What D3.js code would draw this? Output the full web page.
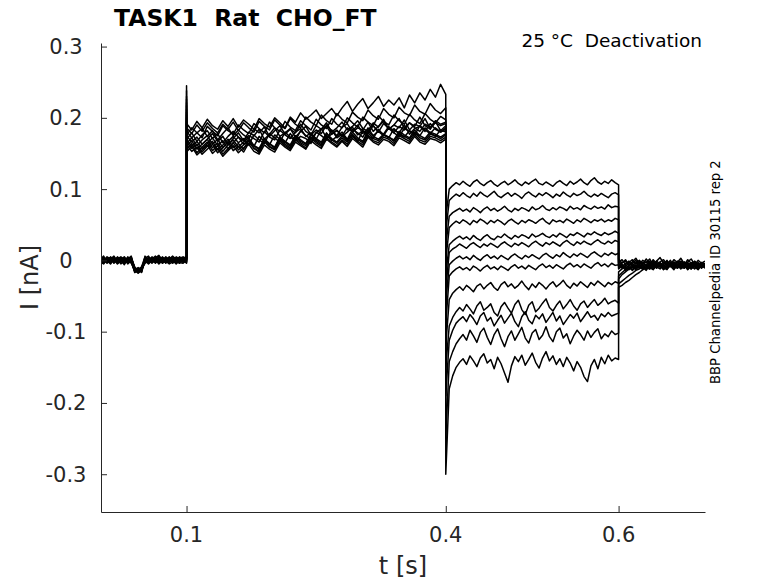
<!DOCTYPE html>
<html>
<head>
<meta charset="utf-8">
<script src="https://cdn.jsdelivr.net/npm/d3@7"></script>
<style>
  html, body { margin: 0; padding: 0; background: #fff; }
  svg { display: block; font-family: "DejaVu Sans", sans-serif; }
  text { white-space: pre; }
</style>
</head>
<body>
<svg id="chart" width="778" height="583"></svg>
<script>
// current in pA, one row per sweep (13 sweeps)
const holdA = [
  [3,-2,4,1,-3,5,0,-4,2,6,-12,-16,-9,5,1,-2,4,7,-1,3,0,-3,5,2,-1,4],
  [-1,4,0,-5,2,-2,3,1,-4,0,-14,-11,-15,2,-3,5,0,-2,3,-4,2,6,-1,1,4,-2],
  [5,1,-3,2,6,-1,4,-2,0,3,-9,-17,-12,3,6,-1,2,-3,4,1,5,-2,3,-3,2,6],
  [-4,0,2,-2,1,-5,-1,3,-3,-2,-15,-13,-10,-1,2,-4,1,-5,0,-2,-3,1,-4,0,-2,1],
  [1,6,-1,3,-3,2,5,-1,4,1,-10,-14,-16,4,0,3,-2,6,1,4,-1,3,0,5,1,3],
  [-2,-5,1,-1,3,-3,0,-6,1,-3,-16,-12,-11,-2,-4,0,-3,2,-4,-1,-5,-2,1,-3,-4,0],
  [4,2,-2,5,0,3,-3,2,-1,5,-13,-18,-14,1,4,2,6,0,3,-2,4,1,-1,3,5,2],
  [0,-3,3,-4,4,0,2,-3,5,-1,-11,-15,-13,6,-2,1,-4,3,-1,5,0,-4,2,-2,3,-3],
  [-3,1,-4,0,-1,4,-2,1,-2,2,-17,-14,-9,0,3,-3,2,-1,-3,1,3,-1,-3,4,-1,2],
  [2,-1,5,2,-4,1,3,0,3,-4,-12,-16,-15,3,-1,4,-1,5,2,-3,1,5,3,-1,0,-4],
  [-5,3,-1,-3,2,-2,1,4,-5,0,-14,-10,-13,-3,1,-2,3,-4,0,2,-2,0,-5,1,-3,1],
  [1,-4,2,4,-2,3,-5,-1,2,4,-10,-13,-17,2,-5,0,4,1,-2,-1,4,-3,2,3,4,-1],
  [-2,2,-2,-1,5,-4,2,5,-1,-2,-15,-17,-12,-4,2,3,-2,-3,5,0,-1,2,-2,-4,1,3]
];

const capOn = [245, 238, 230, 226, 221, 217, 212, 208, 204, 200, 197, 195, 192];

const stepB = [
  [192,183,195,186,198,189,184,196,188,199, 187,197,191,184,199,192,187,200,193,186, 201,194,207,198,204,211,199,206,213,203, 214,223,209,219,227,213,221,230,216,225, 218,228,214,232,221,235,225,240,229,247,233],
  [186,178,190,181,193,185,179,191,184,194, 182,193,186,180,195,188,183,197,190,185, 199,191,186,201,194,189,204,196,191,206, 198,193,208,201,196,211,203,198,213,205, 200,215,207,203,218,209,205,220,211,206,214],
  [176,186,179,172,188,181,175,189,182,177, 190,183,178,192,185,179,194,186,181,195, 187,182,196,189,183,198,190,185,199,191, 186,200,193,187,201,194,189,203,195,190, 204,196,191,205,197,192,206,198,193,202,197],
  [181,172,179,185,174,182,169,178,186,175, 183,176,171,185,179,187,174,182,189,177, 184,179,191,181,176,189,184,193,180,186, 194,183,188,196,185,181,193,187,198,184, 190,199,186,193,188,201,189,184,196,191,194],
  [170,179,167,176,182,171,178,165,174,181, 173,168,180,175,184,170,177,186,174,179, 185,173,181,188,176,183,178,190,182,175, 187,192,180,186,183,194,181,188,195,184, 190,186,197,183,191,188,199,185,193,189,192],
  [175,166,173,163,170,178,167,174,162,171, 179,168,175,171,166,181,173,169,183,176, 171,180,185,174,179,170,184,188,177,182, 175,186,181,190,178,184,189,180,192,185, 179,188,183,193,186,181,191,187,195,182,189],
  [164,172,161,169,175,163,170,158,167,174, 165,171,162,176,169,164,178,172,166,180, 173,168,182,175,170,179,185,172,177,183, 174,180,187,176,182,178,189,181,175,186, 183,179,190,177,185,188,181,192,184,180,186],
  [170,160,167,157,164,172,161,168,156,165, 173,163,169,160,174,167,162,176,170,165, 178,168,174,171,164,180,175,169,183,172, 177,170,184,179,173,186,175,181,177,188, 179,174,185,181,176,189,183,178,186,180,184],
  [160,168,156,163,170,158,165,153,162,169, 159,166,172,161,157,170,164,159,173,167, 162,175,169,164,177,171,166,179,168,174, 180,170,176,167,182,174,171,184,176,172, 185,177,173,182,178,175,186,179,174,183,180],
  [166,157,163,152,160,167,155,162,170,158, 164,156,169,161,155,171,163,158,172,166, 160,174,167,163,176,169,164,178,171,166, 175,168,180,172,167,182,174,170,177,173, 169,181,176,172,183,175,171,180,177,173,178],
  [156,164,151,159,166,154,161,149,157,165, 155,162,168,157,153,167,160,156,170,163, 158,171,165,161,173,167,162,175,169,164, 172,166,177,170,165,179,171,168,176,173, 167,178,174,170,180,172,169,177,175,171,176],
  [162,153,159,149,156,163,151,158,166,154, 160,152,165,158,151,167,159,155,168,161, 156,169,163,158,171,165,160,172,166,161, 169,163,174,167,162,176,168,165,173,170, 164,175,171,167,177,169,166,174,172,168,173],
  [152,160,148,155,162,150,157,146,154,161, 151,158,163,153,149,162,156,152,165,159, 154,166,161,156,168,162,157,170,164,159, 167,160,171,165,159,173,166,162,170,167, 161,172,168,164,174,166,163,171,169,165,170]
];

const capOff = [60, 40, 20, 0, -20, -40, -60, -90, -120, -150, -190, -250, -300];

const tailC = [
  [100,105,109,106,111,107,104,110,113,108,105,109,112,107,104,108,111,106,109,113,108,105,110,107,111,114,108,106,110,107,104,109,112,108,105,111,107,110,114,109,106,112,116,110,107,111,108,113,109,106],
  [84,89,93,90,95,91,88,94,90,96,92,89,93,97,91,88,92,95,90,94,91,87,93,96,92,89,94,91,95,92,88,93,90,96,92,89,94,91,93,97,92,89,93,90,94,91,88,93,95,92],
  [62,67,70,73,69,72,68,74,71,67,72,75,70,73,69,72,76,71,68,73,70,74,72,69,75,71,73,77,72,70,74,71,75,73,70,76,72,74,71,77,74,72,76,73,75,72,78,74,76,75],
  [46,51,55,52,57,54,50,56,53,58,55,51,56,53,57,54,50,55,58,54,51,56,53,57,55,52,56,59,54,51,57,54,56,53,58,55,52,57,54,59,56,53,57,55,58,54,57,55,59,57],
  [22,27,31,34,30,33,29,35,31,28,33,36,31,29,34,32,37,33,30,35,32,36,34,31,37,33,35,38,34,32,36,33,38,35,32,37,35,39,36,33,38,36,40,37,35,39,36,38,41,38],
  [11,16,19,23,20,17,22,25,21,18,23,20,24,21,18,23,26,22,19,24,21,25,22,19,24,27,23,20,25,22,26,23,20,25,28,24,21,26,23,27,24,22,26,29,25,23,27,24,28,26],
  [-6,-1,3,6,2,5,1,7,3,0,5,8,3,6,2,7,4,1,6,9,5,2,7,4,8,5,2,7,10,6,3,8,5,11,7,4,9,6,10,7,4,9,12,8,5,10,7,11,8,10],
  [-22,-16,-12,-9,-13,-10,-14,-8,-11,-15,-10,-7,-12,-9,-13,-8,-11,-14,-9,-6,-11,-8,-12,-7,-10,-13,-8,-5,-10,-7,-11,-6,-9,-12,-7,-4,-9,-6,-10,-5,-8,-11,-6,-3,-8,-5,-9,-4,-7,-6],
  [-55,-46,-41,-37,-42,-35,-39,-44,-36,-33,-40,-35,-31,-38,-42,-34,-30,-37,-33,-39,-35,-29,-36,-41,-33,-38,-31,-35,-40,-34,-30,-37,-33,-28,-35,-39,-32,-36,-30,-34,-38,-31,-35,-29,-33,-37,-31,-34,-30,-32],
  [-92,-80,-72,-66,-71,-62,-68,-75,-64,-58,-70,-66,-61,-73,-78,-65,-59,-67,-74,-62,-56,-69,-76,-63,-58,-72,-67,-60,-54,-66,-71,-63,-57,-68,-62,-55,-64,-70,-61,-57,-66,-60,-55,-63,-59,-53,-61,-58,-56,-60],
  [-112,-98,-88,-83,-79,-86,-76,-82,-90,-78,-73,-85,-80,-92,-84,-77,-88,-81,-74,-86,-93,-79,-72,-84,-89,-77,-82,-75,-87,-80,-73,-85,-78,-90,-83,-76,-81,-74,-86,-79,-72,-80,-77,-84,-75,-79,-73,-78,-76,-74],
  [-142,-128,-117,-110,-104,-112,-98,-106,-115,-101,-95,-108,-118,-104,-96,-110,-121,-107,-99,-112,-103,-94,-109,-116,-102,-97,-111,-105,-93,-107,-114,-100,-95,-109,-103,-117,-106,-98,-104,-112,-99,-108,-101,-96,-110,-103,-107,-99,-104,-102],
  [-180,-162,-150,-143,-138,-146,-134,-141,-149,-137,-131,-144,-139,-152,-136,-145,-158,-171,-148,-135,-142,-133,-147,-139,-130,-143,-151,-137,-128,-141,-134,-146,-138,-149,-136,-144,-155,-142,-150,-163,-170,-148,-139,-152,-136,-145,-133,-141,-137,-139]
];

const afterD = [
  [2,-4,1,-6,-2,3,-5,0,-3,2,-7,-1,4,-4,-1,-6,1,-3,3,-5,-2,2,-6,0,-4,-1],
  [-3,1,-6,-1,-8,-3,0,-5,2,-4,-1,-7,-2,1,-5,0,-8,-3,-1,-6,1,-4,-2,-7,-3,-5],
  [-8,-3,-1,-7,-4,0,-9,-5,-2,-6,1,-4,-8,-2,-6,-3,-9,-1,-5,-7,-3,-8,-2,-5,-9,-4],
  [-1,-6,-9,-3,1,-5,-2,-7,-10,-4,-6,-1,-5,-9,-3,-7,-2,-6,-10,-3,-5,-8,-1,-6,-3,-7],
  [-5,-9,-4,-2,-8,-11,-6,-3,-7,-1,-9,-5,-3,-8,-11,-4,-6,-2,-7,-9,-4,-10,-6,-3,-8,-5],
  [-10,-6,-12,-7,-4,-9,-2,-8,-11,-5,-7,-3,-10,-6,0,-8,-4,-11,-6,-2,-9,-5,-7,-12,-4,-8],
  [-4,-11,-7,-9,-13,-6,-10,-4,-8,-12,-3,-9,-6,-11,-7,-5,-12,-8,-4,-10,-7,-3,-9,-6,-11,-6],
  [-12,-8,-14,-10,-6,-11,-7,-13,-5,-9,-12,-8,-4,-10,-13,-6,-9,-2,-11,-7,-13,-8,-5,-10,-7,-9],
  [-16,-12,-9,-13,-8,-11,-6,-10,-14,-7,-3,-9,-12,-6,-10,-8,-13,-5,-9,-11,-6,-12,-8,-4,-10,-7],
  [-22,-17,-13,-10,-14,-9,-11,-6,-12,-8,-5,-11,-7,-13,-9,-4,-10,-6,-12,-8,-11,-5,-9,-13,-7,-10],
  [-26,-20,-16,-12,-9,-13,-8,-11,-6,-10,-13,-7,-4,-9,-12,-6,-11,-8,-3,-10,-7,-12,-5,-9,-6,-11],
  [-33,-29,-25,-21,-18,-14,-12,-9,-11,-7,-10,-5,-8,-12,-6,-9,-4,-11,-7,-10,-5,-8,-12,-6,-9,-7],
  [-38,-35,-31,-28,-24,-20,-17,-13,-10,-12,-7,-9,-5,-11,-8,-3,-10,-6,-9,-4,-12,-7,-5,-10,-6,-8]
];

// sample times (s) of each protocol segment
const tA = d3.range(26).map(k => k * 0.004);
const tB = d3.range(51).map(k => 0.1 + k * 0.006);
const tC = d3.range(50).map(k => 0.404 + k * 0.004);
const tD = d3.range(26).map(k => 0.6 + k * 0.004);

const xTicks = [0.1, 0.4, 0.6];
const xTickLabels = ["0.1", "0.4", "0.6"];
const yTicks = [-0.3, -0.2, -0.1, 0, 0.1, 0.2, 0.3];
const yTickLabels = ["-0.3", "-0.2", "-0.1", "0", "0.1", "0.2", "0.3"];

const svg = d3.select("#chart");
const margin = { top: 43, right: 73, bottom: 71, left: 101 };
const width = 778, height = 583;
const innerWidth = width - margin.left - margin.right;
const innerHeight = height - margin.top - margin.bottom;
const ink = "#262626";

const x = d3.scaleLinear().domain([0.001, 0.7]).range([0, innerWidth]);
const y = d3.scaleLinear().domain([-0.353, 0.305]).range([innerHeight, 0]);

const g = svg.append("g").attr("transform", `translate(${margin.left},${margin.top})`);

g.append("clipPath").attr("id", "plot-clip")
  .append("rect").attr("width", innerWidth).attr("height", innerHeight);

// build every sweep from its segments
const sweeps = holdA.map((_, i) => {
  const pts = [];
  tA.forEach((t, k) => pts.push([t, holdA[i][k]]));
  pts.push([0.1, capOn[i]]);
  tB.forEach((t, k) => pts.push([t, stepB[i][k]]));
  pts.push([0.4, capOff[i]]);
  tC.forEach((t, k) => pts.push([t, tailC[i][k]]));
  tD.forEach((t, k) => pts.push([t, afterD[i][k]]));
  return pts;
});

const line = d3.line()
  .x(d => x(d[0]))
  .y(d => y(d[1] / 1000));

g.append("g").attr("clip-path", "url(#plot-clip)")
  .selectAll("path")
  .data(sweeps)
  .enter().append("path")
  .attr("fill", "none")
  .attr("stroke", "#000")
  .attr("stroke-width", 1.5)
  .attr("stroke-linejoin", "round")
  .attr("d", line);

// AXES (ticks inside, no box); labels drawn separately below
const xAxis = g.append("g")
  .attr("transform", `translate(0,${innerHeight})`)
  .call(d3.axisBottom(x).tickValues(xTicks).tickFormat("")
    .tickSizeInner(-6).tickSizeOuter(0));
const yAxis = g.append("g")
  .call(d3.axisLeft(y).tickValues(yTicks).tickFormat("")
    .tickSizeInner(-6).tickSizeOuter(0));

[xAxis, yAxis].forEach(a => {
  a.select(".domain").attr("stroke", ink);
  a.selectAll(".tick line").attr("stroke", ink);
  a.selectAll(".tick text").remove();
});

svg.append("g").selectAll("text")
  .data(xTicks)
  .enter().append("text")
  .attr("x", d => margin.left + x(d))
  .attr("y", margin.top + innerHeight + 30)
  .attr("text-anchor", "middle").attr("fill", ink)
  .style("font-size", "21px")
  .text((d, i) => xTickLabels[i]);

svg.append("g").selectAll("text")
  .data(yTicks)
  .enter().append("text")
  .attr("x", 66)
  .attr("y", d => margin.top + y(d) + 7.5)
  .attr("text-anchor", "middle").attr("fill", ink)
  .style("font-size", "21px")
  .text((d, i) => yTickLabels[i]);

// LABELS
svg.append("text")
  .attr("x", margin.left + innerWidth / 2).attr("y", 574)
  .attr("text-anchor", "middle").attr("fill", ink)
  .style("font-size", "24px").text("t [s]");

svg.append("text")
  .attr("transform", `translate(38,${margin.top + innerHeight / 2}) rotate(-90)`)
  .attr("text-anchor", "middle").attr("fill", ink)
  .style("font-size", "24px").text("I [nA]");

svg.append("text")
  .attr("x", 114).attr("y", 26)
  .attr("fill", "#000").style("font-size", "23.5px").style("font-weight", "bold")
  .text("TASK1  Rat  CHO_FT");

svg.append("text")
  .attr("x", 702).attr("y", 47)
  .attr("text-anchor", "end").attr("fill", "#000")
  .style("font-size", "18.5px").text("25 °C  Deactivation");

svg.append("text")
  .attr("transform", "translate(720,384) rotate(-90)")
  .attr("fill", "#000").style("font-size", "13.2px")
  .text("BBP Channelpedia ID 30115 rep 2");
</script>
</body>
</html>
